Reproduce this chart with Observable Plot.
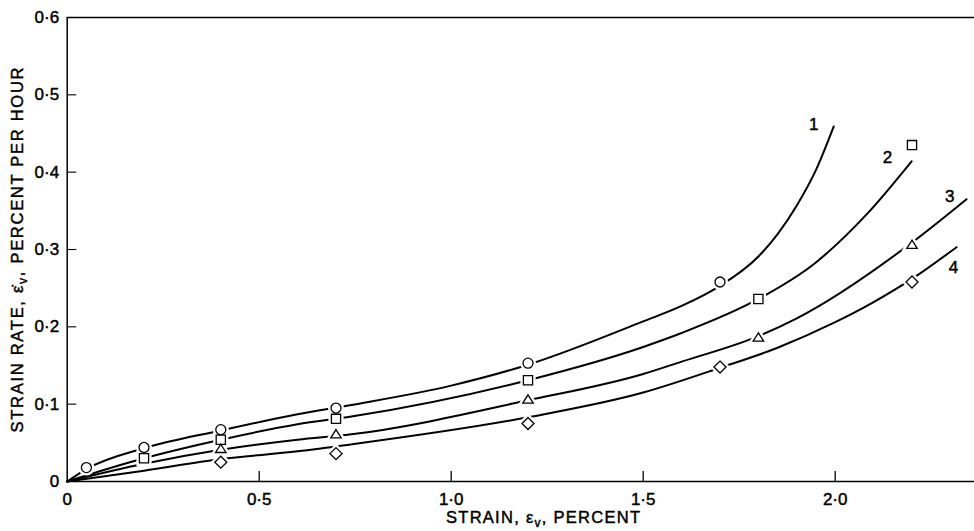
<!DOCTYPE html>
<html>
<head>
<meta charset="utf-8">
<script src="https://cdn.jsdelivr.net/npm/d3@7"></script>
<script src="https://cdn.jsdelivr.net/npm/@observablehq/plot@0.6"></script>
<style>
  html, body { margin: 0; padding: 0; background: #fff; }
  #chart { width: 974px; height: 531px; }
</style>
</head>
<body>
<div id="chart"></div>
<script>
// ---- Data ----
// Smoothed curves (strain %, strain rate %/h)
const curve1Strain = [0, 0.05, 0.2, 0.4, 0.6, 0.74, 1.0, 1.2, 1.5, 1.6, 1.7, 1.8, 1.85, 1.9, 1.95, 1.996];
const curve1Rate   = [0, 0.016, 0.043, 0.066, 0.087, 0.099, 0.124, 0.151, 0.207, 0.227, 0.253, 0.291, 0.320, 0.357, 0.403, 0.459];
const curve2Strain = [0, 0.2, 0.4, 0.6, 0.74, 1.2, 1.5, 1.6, 1.8, 1.944, 2.083, 2.199];
const curve2Rate   = [0, 0.030, 0.054, 0.074, 0.084, 0.131, 0.174, 0.192, 0.236, 0.281, 0.346, 0.414];
const curve3Strain = [0, 0.2, 0.4, 0.6, 0.74, 1.2, 1.5, 1.6, 1.8, 1.9, 2.2, 2.342];
const curve3Rate   = [0, 0.023, 0.041, 0.054, 0.061, 0.105, 0.139, 0.155, 0.188, 0.211, 0.309, 0.365];
const curve4Strain = [0, 0.2, 0.4, 0.6, 0.74, 1.2, 1.5, 1.7, 1.85, 2.0, 2.1, 2.2, 2.316];
const curve4Rate   = [0, 0.014, 0.029, 0.039, 0.048, 0.083, 0.115, 0.147, 0.173, 0.206, 0.232, 0.262, 0.303];

// Measured points
const circleStrain   = [0.05, 0.2, 0.4, 0.7, 1.2, 1.7];
const circleRate     = [0.018, 0.044, 0.067, 0.095, 0.153, 0.258];
const squareStrain   = [0.2, 0.4, 0.7, 1.2, 1.8, 2.2];
const squareRate     = [0.030, 0.054, 0.081, 0.131, 0.236, 0.435];
const triangleStrain = [0.4, 0.7, 1.2, 1.8, 2.2];
const triangleRate   = [0.042, 0.061, 0.106, 0.186, 0.306];
const diamondStrain  = [0.4, 0.7, 1.2, 1.7, 2.2];
const diamondRate    = [0.025, 0.036, 0.075, 0.148, 0.258];

// Curve labels
const curveLabels      = ["1", "2", "3", "4"];
const curveLabelStrain = [1.944, 2.136, 2.298, 2.308];
const curveLabelRate   = [0.462, 0.419, 0.369, 0.277];

// Ticks
const xTicks = [0, 0.5, 1.0, 1.5, 2.0];
const yTicks = [0, 0.1, 0.2, 0.3, 0.4, 0.5, 0.6];

// ---- Build tables ----
const zip = (xs, ys) => xs.map((x, i) => ({x, y: ys[i]}));
const curves = [
  zip(curve1Strain, curve1Rate),
  zip(curve2Strain, curve2Rate),
  zip(curve3Strain, curve3Rate),
  zip(curve4Strain, curve4Rate)
];
const circles = zip(circleStrain, circleRate);
const squares = zip(squareStrain, squareRate);
const triangles = zip(triangleStrain, triangleRate);
const diamonds = zip(diamondStrain, diamondRate);
const labels = curveLabels.map((t, i) => ({t, x: curveLabelStrain[i], y: curveLabelRate[i]}));

// custom symbols
const rOf = size => Math.sqrt(size / Math.PI);
const symCircle = {draw(c, size) { const r = rOf(size); c.moveTo(r, 0); c.arc(0, 0, r, 0, 2 * Math.PI); c.closePath(); }};
const symSquare = {draw(c, size) { const r = rOf(size); c.rect(-r, -r, 2 * r, 2 * r); }};
const symTriangle = {draw(c, size) { const r = rOf(size); c.moveTo(0, -0.95 * r); c.lineTo(r * 1.05, 0.7 * r); c.lineTo(-r * 1.05, 0.7 * r); c.closePath(); }};
const symDiamond = {draw(c, size) { const r = rOf(size) * 1.2; c.moveTo(0, -r); c.lineTo(r, 0); c.lineTo(0, r); c.lineTo(-r, 0); c.closePath(); }};

const fmt = d => d === 0 ? "0" : d3.format(".1f")(d).replace(".", "\u00B7");

const marginLeft = 66.7, marginTop = 17, marginBottom = 50, marginRight = 0;
const W = 974, H = 531;
const xMax = (W - marginLeft - marginRight) / 384; // 384 px per 1.0 strain

const markerSets = [
  [circles, symCircle, 5],
  [squares, symSquare, 4.6],
  [triangles, symTriangle, 5],
  [diamonds, symDiamond, 5]
];

const marks = [];
curves.forEach(c => marks.push(Plot.line(c, {x: "x", y: "y", curve: "monotone-x", stroke: "black", strokeWidth: 2})));
markerSets.forEach(([d, s, r]) => {
  marks.push(Plot.dot(d, {x: "x", y: "y", symbol: s, r, fill: "white", stroke: "white", strokeWidth: 6}));
});
markerSets.forEach(([d, s, r]) => {
  marks.push(Plot.dot(d, {x: "x", y: "y", symbol: s, r, fill: "white", stroke: "black", strokeWidth: 1.3}));
});
// frame: left, bottom, top
marks.push(Plot.ruleX([0], {stroke: "black", strokeWidth: 1.5}));
marks.push(Plot.ruleY([0], {stroke: "black", strokeWidth: 1.6}));
marks.push(Plot.ruleY([0.6], {stroke: "black", strokeWidth: 1.6}));
// inward ticks
marks.push(Plot.ruleX(xTicks.filter(d => d > 0), {x: d => d, y1: 0, y2: 0.013, stroke: "black", strokeWidth: 1.3}));
marks.push(Plot.ruleY(yTicks.filter(d => d > 0 && d < 0.6), {y: d => d, x1: 0, x2: 0.025, stroke: "black", strokeWidth: 1.1}));
// tick labels
marks.push(Plot.axisX(xTicks, {tickSize: 0, tickPadding: 11, tickFormat: fmt, fontSize: 17, label: null}));
marks.push(Plot.axisY(yTicks, {tickSize: 0, tickPadding: 8, tickFormat: fmt, fontSize: 17, label: null}));
// curve labels
marks.push(Plot.text(labels, {x: "x", y: "y", text: "t", fontSize: 17, fill: "black"}));

const chart = Plot.plot({
  width: W, height: H,
  marginLeft, marginRight, marginTop, marginBottom,
  x: {domain: [0, xMax]},
  y: {domain: [0, 0.6]},
  style: {fontFamily: "'Liberation Sans', Arial, sans-serif", color: "black", background: "white"},
  marks
});

// axis titles with subscripts
const svg = d3.select(chart);
const xl = svg.append("text")
  .attr("x", 543).attr("y", 523)
  .attr("text-anchor", "middle")
  .attr("font-size", 16.5).attr("fill", "black")
  .attr("font-family", "'Liberation Sans', Arial, sans-serif")
  .attr("textLength", 194).attr("lengthAdjust", "spacing");
xl.append("tspan").text("STRAIN, \u03B5");
xl.append("tspan").attr("dy", 4).attr("font-size", 12).text("v");
xl.append("tspan").attr("dy", -4).text(", PERCENT");

const yl = svg.append("text")
  .attr("transform", "translate(22.5,250) rotate(-90)")
  .attr("x", 0).attr("y", 0)
  .attr("text-anchor", "middle")
  .attr("font-size", 16.5).attr("fill", "black")
  .attr("font-family", "'Liberation Sans', Arial, sans-serif")
  .attr("textLength", 365).attr("lengthAdjust", "spacing");
yl.append("tspan").text("STRAIN RATE, \u03B5\u0307");
yl.append("tspan").attr("dy", 4).attr("font-size", 12).text("v");
yl.append("tspan").attr("dy", -4).text(", PERCENT PER HOUR");

// slightly heavier lettering, like the drafted original
svg.selectAll("text").attr("stroke", "black").attr("stroke-width", 0.45);

document.getElementById("chart").append(chart);
</script>
</body>
</html>
